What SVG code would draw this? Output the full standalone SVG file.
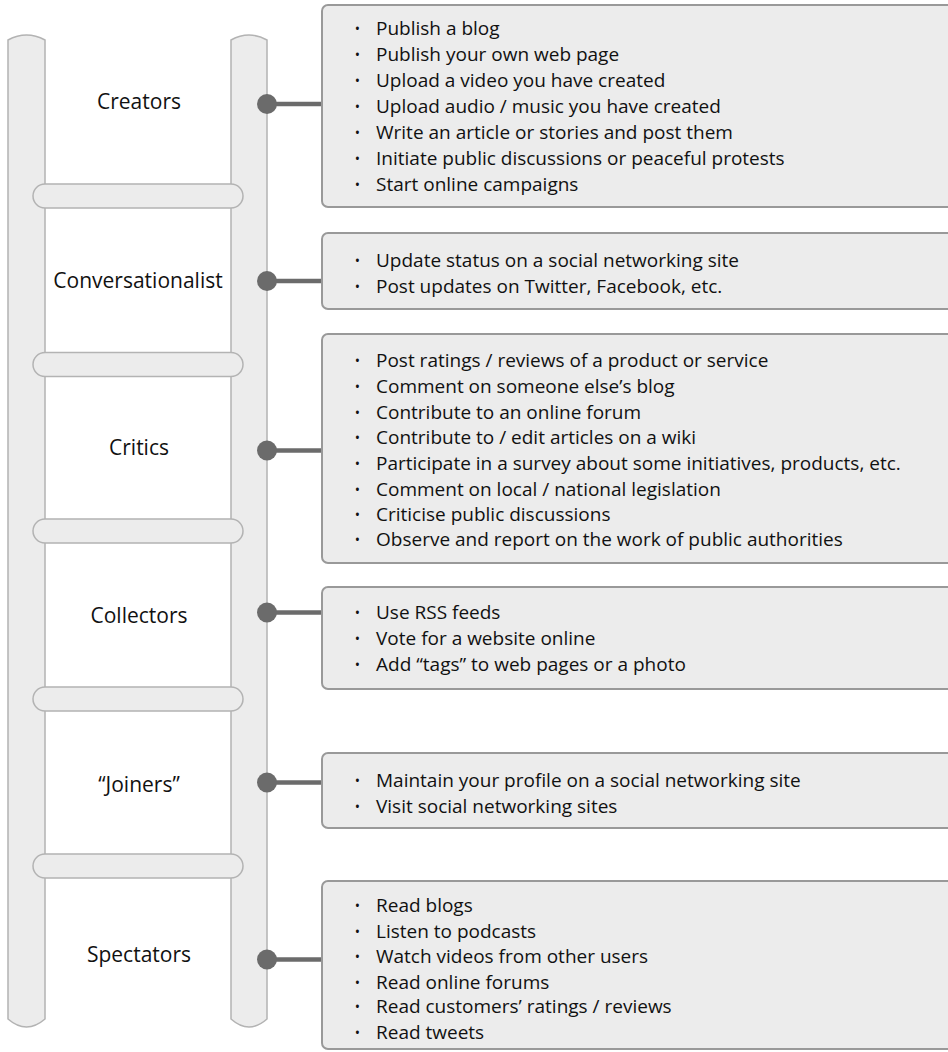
<svg xmlns="http://www.w3.org/2000/svg" width="948" height="1052" viewBox="0 0 948 1052">
<style>
  .rail{fill:#ececec;stroke:#b3b3b3;stroke-width:1.5}
  .rung{fill:#ececec;stroke:#b3b3b3;stroke-width:1.5}
  .box{fill:#ececec;stroke:#999999;stroke-width:2}
  .lbl{font-family:"Open Sans","Noto Sans",sans-serif;font-size:21px;fill:#111;text-anchor:middle}
  .item{font-family:"Open Sans","Noto Sans",sans-serif;font-size:19px;fill:#111}
  .bul{font-family:"Open Sans","Noto Sans",sans-serif;font-size:14px;fill:#111;text-anchor:middle}
  .dot{fill:#6b6b6b}
  .link{stroke:#6b6b6b;stroke-width:4.5;fill:none}
</style>
<rect width="948" height="1052" fill="#ffffff"/>
<g id="ladder">
  <path class="rail" d="M8,40 Q26.5,30 45,40 L45,1019 Q26.5,1035 8,1019 Z"/>
  <path class="rail" d="M231,40 Q249,30 267,40 L267,1019 Q249,1035 231,1019 Z"/>
  <rect class="rung" x="33" y="184" width="210" height="24" rx="12"/>
  <rect class="rung" x="33" y="352.5" width="210" height="24" rx="12"/>
  <rect class="rung" x="33" y="519" width="210" height="24" rx="12"/>
  <rect class="rung" x="33" y="687" width="210" height="24" rx="12"/>
  <rect class="rung" x="33" y="854" width="210" height="24" rx="12"/>
</g>
<g id="connectors">
  <line class="link" x1="267" y1="104" x2="322" y2="104"/>
  <circle class="dot" cx="267" cy="104" r="10"/>
  <line class="link" x1="267" y1="281" x2="322" y2="281"/>
  <circle class="dot" cx="267" cy="281" r="10"/>
  <line class="link" x1="267" y1="450.5" x2="322" y2="450.5"/>
  <circle class="dot" cx="267" cy="450.5" r="10"/>
  <line class="link" x1="267" y1="612.5" x2="322" y2="612.5"/>
  <circle class="dot" cx="267" cy="612.5" r="10"/>
  <line class="link" x1="267" y1="782.5" x2="322" y2="782.5"/>
  <circle class="dot" cx="267" cy="782.5" r="10"/>
  <line class="link" x1="267" y1="959.5" x2="322" y2="959.5"/>
  <circle class="dot" cx="267" cy="959.5" r="10"/>
</g>
<g id="creators">
  <text class="lbl" x="139" y="108.5">Creators</text>
  <rect class="box" x="322" y="5" width="640" height="202" rx="6"/>
  <text class="bul"><tspan x="357.5" y="34">•</tspan><tspan x="357.5" y="60">•</tspan><tspan x="357.5" y="86">•</tspan><tspan x="357.5" y="112">•</tspan><tspan x="357.5" y="138">•</tspan><tspan x="357.5" y="164">•</tspan><tspan x="357.5" y="190">•</tspan></text>
  <text class="item"><tspan x="376" y="35">Publish a blog</tspan><tspan x="376" y="61">Publish your own web page</tspan><tspan x="376" y="87">Upload a video you have created</tspan><tspan x="376" y="113">Upload audio / music you have created</tspan><tspan x="376" y="139">Write an article or stories and post them</tspan><tspan x="376" y="165">Initiate public discussions or peaceful protests</tspan><tspan x="376" y="191">Start online campaigns</tspan></text>
</g>
<g id="conversationalist">
  <text class="lbl" x="138" y="288">Conversationalist</text>
  <rect class="box" x="322" y="233" width="640" height="76" rx="6"/>
  <text class="bul"><tspan x="357.5" y="266">•</tspan><tspan x="357.5" y="292">•</tspan></text>
  <text class="item"><tspan x="376" y="267">Update status on a social networking site</tspan><tspan x="376" y="293">Post updates on Twitter, Facebook, etc.</tspan></text>
</g>
<g id="critics">
  <text class="lbl" x="139" y="455">Critics</text>
  <rect class="box" x="322" y="334" width="640" height="229" rx="6"/>
  <text class="bul"><tspan x="357.5" y="366">•</tspan><tspan x="357.5" y="391.8">•</tspan><tspan x="357.5" y="417.6">•</tspan><tspan x="357.5" y="443.4">•</tspan><tspan x="357.5" y="469.2">•</tspan><tspan x="357.5" y="494.5">•</tspan><tspan x="357.5" y="519.8">•</tspan><tspan x="357.5" y="544.5">•</tspan></text>
  <text class="item"><tspan x="376" y="367">Post ratings / reviews of a product or service</tspan><tspan x="376" y="392.8">Comment on someone else’s blog</tspan><tspan x="376" y="418.6">Contribute to an online forum</tspan><tspan x="376" y="444.4">Contribute to / edit articles on a wiki</tspan><tspan x="376" y="470.2">Participate in a survey about some initiatives, products, etc.</tspan><tspan x="376" y="495.5">Comment on local / national legislation</tspan><tspan x="376" y="520.8">Criticise public discussions</tspan><tspan x="376" y="545.5">Observe and report on the work of public authorities</tspan></text>
</g>
<g id="collectors">
  <text class="lbl" x="139" y="622.5">Collectors</text>
  <rect class="box" x="322" y="587" width="640" height="102" rx="6"/>
  <text class="bul"><tspan x="357.5" y="618">•</tspan><tspan x="357.5" y="644">•</tspan><tspan x="357.5" y="670">•</tspan></text>
  <text class="item"><tspan x="376" y="619">Use RSS feeds</tspan><tspan x="376" y="645">Vote for a website online</tspan><tspan x="376" y="671">Add “tags” to web pages or a photo</tspan></text>
</g>
<g id="joiners">
  <text class="lbl" x="139" y="791.5">“Joiners”</text>
  <rect class="box" x="322" y="753" width="640" height="75" rx="6"/>
  <text class="bul"><tspan x="357.5" y="786">•</tspan><tspan x="357.5" y="812">•</tspan></text>
  <text class="item"><tspan x="376" y="787">Maintain your profile on a social networking site</tspan><tspan x="376" y="813">Visit social networking sites</tspan></text>
</g>
<g id="spectators">
  <text class="lbl" x="139" y="961.5">Spectators</text>
  <rect class="box" x="322" y="881" width="640" height="168" rx="6"/>
  <text class="bul"><tspan x="357.5" y="911">•</tspan><tspan x="357.5" y="936.5">•</tspan><tspan x="357.5" y="962">•</tspan><tspan x="357.5" y="987.5">•</tspan><tspan x="357.5" y="1012">•</tspan><tspan x="357.5" y="1037.5">•</tspan></text>
  <text class="item"><tspan x="376" y="912">Read blogs</tspan><tspan x="376" y="937.5">Listen to podcasts</tspan><tspan x="376" y="963">Watch videos from other users</tspan><tspan x="376" y="988.5">Read online forums</tspan><tspan x="376" y="1013">Read customers’ ratings / reviews</tspan><tspan x="376" y="1038.5">Read tweets</tspan></text>
</g>
</svg>
